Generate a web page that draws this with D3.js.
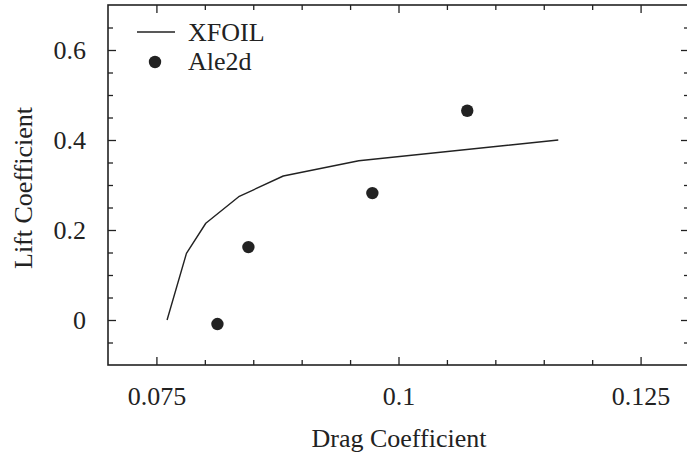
<!DOCTYPE html>
<html>
<head>
<meta charset="utf-8">
<script src="https://cdn.jsdelivr.net/npm/d3@7"></script>
<style>
  html, body { margin: 0; padding: 0; background: #fff; }
  svg { display: block; }
  text { font-family: "Liberation Serif", "Times New Roman", serif; fill: #222; }
</style>
</head>
<body>
<script>
// XFOIL polar (drag vs lift coefficient)
const xfoilCd = [0.0761, 0.0781, 0.0801, 0.0835, 0.0881, 0.0959, 0.1165];
const xfoilCl = [0.000, 0.148, 0.215, 0.274, 0.320, 0.354, 0.400];
// Ale2d computed points
const ale2dCd = [0.0813, 0.0845, 0.0973, 0.1071];
const ale2dCl = [-0.009, 0.162, 0.282, 0.465];
// Axis ticks
const xMajor = [0.075, 0.1, 0.125];
const xMinor = [0.08, 0.085, 0.09, 0.095, 0.105, 0.11, 0.115, 0.12];
const yMajor = [0, 0.2, 0.4, 0.6];
const yMinor = [-0.05, 0.05, 0.1, 0.15, 0.25, 0.3, 0.35, 0.45, 0.5, 0.55, 0.65];
const xLabels = ["0.075", "0.1", "0.125"];
const yLabels = ["0", "0.2", "0.4", "0.6"];

const W = 687, H = 454;
const L = 108, R = 689, T = 5, B = 365;
const fs = 26;

const svg = d3.select("body").append("svg").attr("width", W).attr("height", H);

const x = d3.scaleLinear().domain([0.07, 0.13]).range([L, R]);
const y = d3.scaleLinear().domain([-0.1, 0.7]).range([B, T]);

const ink = "#222";
const majorLen = 8, minorLen = 5;

// tick marks on all four sides, pointing inward
function ticks(g, axisFn, scale, values, len) {
  g.call(axisFn(scale).tickValues(values).tickSize(-len).tickFormat(""));
  g.select(".domain").remove();
  g.selectAll(".tick line").attr("stroke", ink).attr("stroke-width", 1.3);
}
ticks(svg.append("g").attr("transform", `translate(0,${B})`), d3.axisBottom, x, xMajor, majorLen);
ticks(svg.append("g").attr("transform", `translate(0,${B})`), d3.axisBottom, x, xMinor, minorLen);
ticks(svg.append("g").attr("transform", `translate(0,${T})`), d3.axisTop, x, xMajor, majorLen);
ticks(svg.append("g").attr("transform", `translate(0,${T})`), d3.axisTop, x, xMinor, minorLen);
ticks(svg.append("g").attr("transform", `translate(${L},0)`), d3.axisLeft, y, yMajor, majorLen);
ticks(svg.append("g").attr("transform", `translate(${L},0)`), d3.axisLeft, y, yMinor, minorLen);
ticks(svg.append("g").attr("transform", `translate(${R},0)`), d3.axisRight, y, yMajor, majorLen);
ticks(svg.append("g").attr("transform", `translate(${R},0)`), d3.axisRight, y, yMinor, minorLen);

// frame
svg.append("rect")
  .attr("x", L).attr("y", T).attr("width", R - L).attr("height", B - T)
  .attr("fill", "none").attr("stroke", ink).attr("stroke-width", 1.6);

// tick labels
const xl = svg.append("g").attr("transform", `translate(0,${B})`)
  .call(d3.axisBottom(x).tickValues(xMajor).tickSize(0).tickFormat((d, i) => xLabels[i]));
xl.select(".domain").remove();
xl.selectAll("text").attr("y", 40).attr("dy", 0)
  .style("font-family", "Liberation Serif").style("font-size", fs + "px").attr("fill", ink);

const yl = svg.append("g").attr("transform", `translate(${L},0)`)
  .call(d3.axisLeft(y).tickValues(yMajor).tickSize(0).tickFormat((d, i) => yLabels[i]));
yl.select(".domain").remove();
yl.selectAll("text").attr("x", -22).attr("dy", "0.34em")
  .style("font-family", "Liberation Serif").style("font-size", fs + "px").attr("fill", ink);

// axis titles
svg.append("text")
  .attr("x", 399).attr("y", 447)
  .attr("text-anchor", "middle").style("font-size", fs + "px")
  .text("Drag Coefficient");
svg.append("text")
  .attr("transform", `translate(32,${188}) rotate(-90)`)
  .attr("text-anchor", "middle").style("font-size", fs + "px")
  .text("Lift Coefficient");

// XFOIL curve
const xfoil = xfoilCd.map((d, i) => [d, xfoilCl[i]]);
svg.append("path")
  .datum(xfoil)
  .attr("fill", "none").attr("stroke", ink).attr("stroke-width", 1.4)
  .attr("stroke-linejoin", "round")
  .attr("d", d3.line().x(d => x(d[0])).y(d => y(d[1])));

// Ale2d points
const ale = ale2dCd.map((d, i) => [d, ale2dCl[i]]);
svg.append("g").selectAll("circle").data(ale).join("circle")
  .attr("cx", d => x(d[0])).attr("cy", d => y(d[1])).attr("r", 6.2)
  .attr("fill", ink);

// legend
const lg = svg.append("g");
lg.append("line").attr("x1", 137).attr("x2", 175).attr("y1", 32).attr("y2", 32)
  .attr("stroke", ink).attr("stroke-width", 1.4);
lg.append("text").attr("x", 188).attr("y", 41).style("font-size", fs + "px").text("XFOIL");
lg.append("circle").attr("cx", 155).attr("cy", 62).attr("r", 6.2).attr("fill", ink);
lg.append("text").attr("x", 188).attr("y", 70).style("font-size", fs + "px").text("Ale2d");
</script>
</body>
</html>
